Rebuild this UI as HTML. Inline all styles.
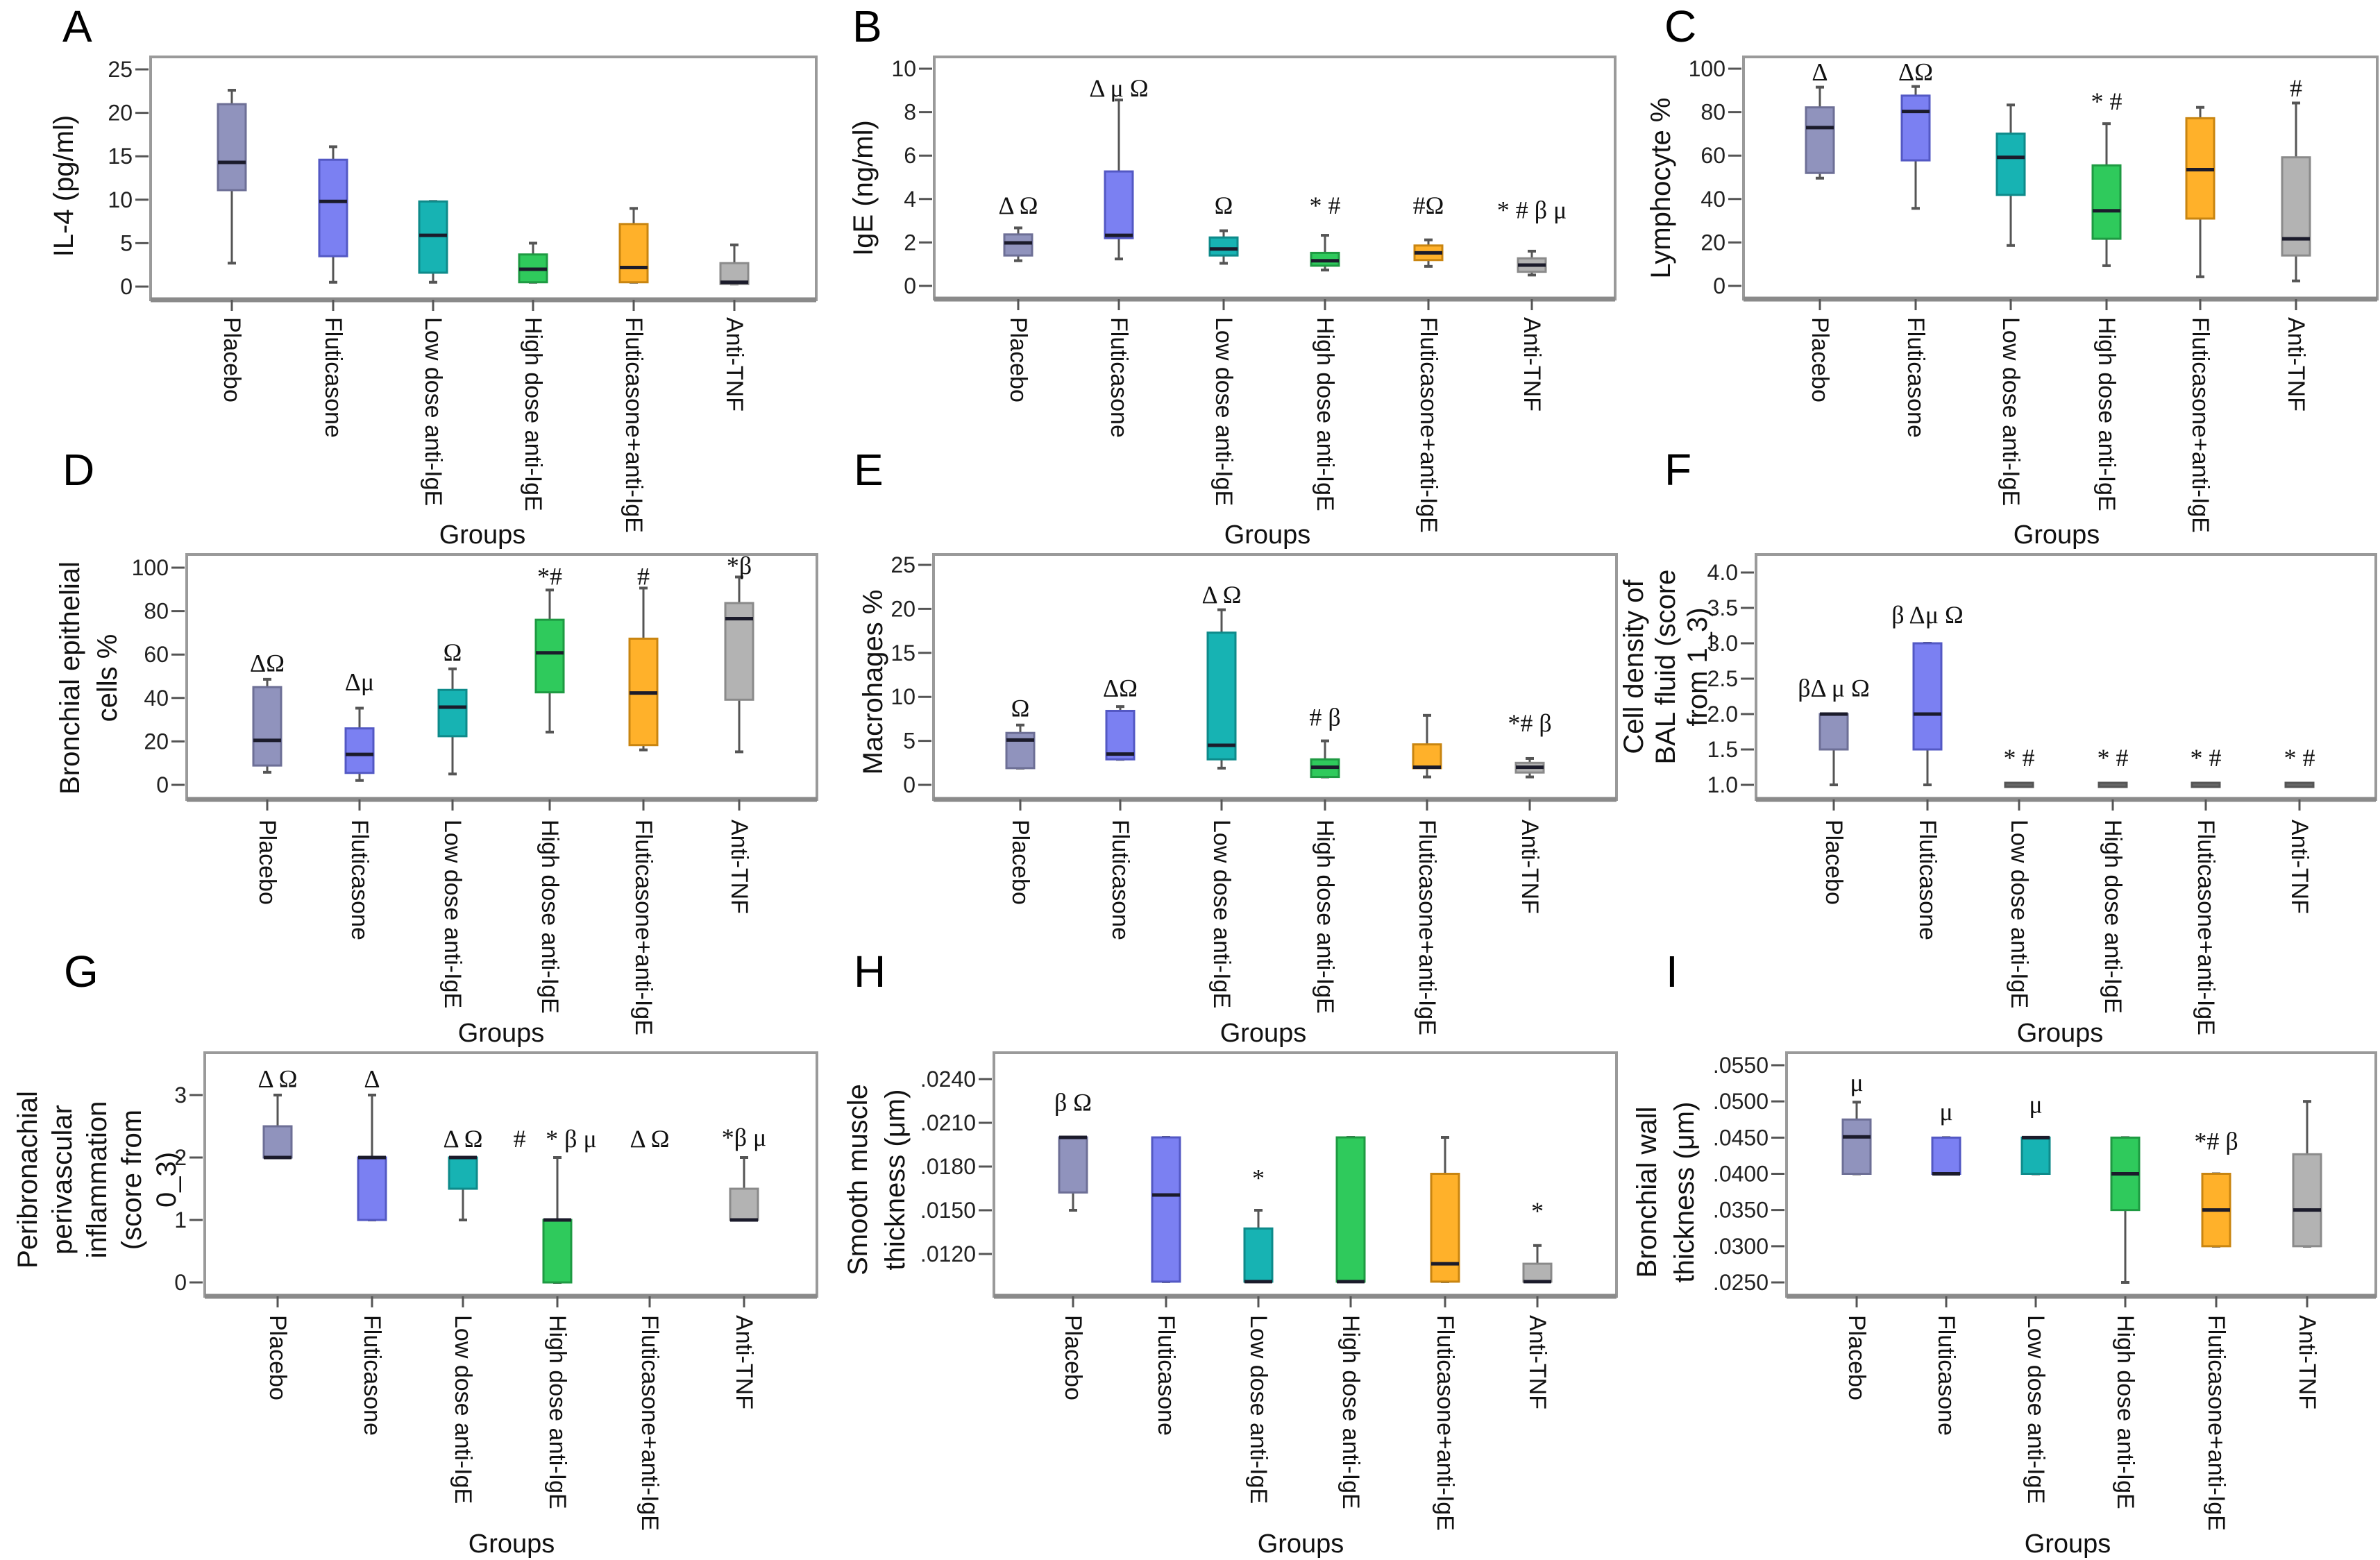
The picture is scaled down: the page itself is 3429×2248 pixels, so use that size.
<!DOCTYPE html>
<html><head><meta charset="utf-8">
<style>
html,body{margin:0;padding:0;background:#fff;}
svg{display:block;}
text{font-family:"Liberation Sans",sans-serif;}
.ann{font-family:"Liberation Serif",serif;}
</style></head>
<body>
<svg id="fig" width="3429" height="2248" viewBox="0 0 3429 2248" xmlns="http://www.w3.org/2000/svg">
<rect x="0" y="0" width="3429" height="2248" fill="#fff"/>
</svg>
<script>
// ---------- shared data ----------
const categories = ["Placebo","Fluticasone","Low dose anti-IgE","High dose anti-IgE","Fluticasone+anti-IgE","Anti-TNF"];
const colors = ["#9093bd","#7b80f2","#17b3b3","#2fca5c","#ffb12a","#b3b3b3"];
const strokes = ["#6d6f96","#5358c4","#0e8a8a","#1e9a42","#c98510","#8a8a8a"];

// ---------- panel A: IL-4 ----------
const a_max=[22.6,16.1,9.8,5.0,9.0,4.8];
const a_q3=[21.0,14.6,9.8,3.7,7.2,2.7];
const a_med=[14.3,9.8,5.9,2.0,2.2,0.5];
const a_q1=[11.1,3.5,1.6,0.5,0.5,0.3];
const a_min=[2.7,0.5,0.5,0.5,0.5,0.3];
const a_ticks=[0,5,10,15,20,25];
const a_tickLabels=["0","5","10","15","20","25"];
const a_annText=[];
const a_annCat=[];
const a_annVal=[];

// ---------- panel B: IgE ----------
const b_max=[2.67,8.56,2.54,2.33,2.12,1.6];
const b_q3=[2.37,5.27,2.23,1.52,1.86,1.27];
const b_med=[1.98,2.33,1.7,1.16,1.52,0.96];
const b_q1=[1.4,2.2,1.4,0.93,1.19,0.65];
const b_min=[1.16,1.24,1.04,0.73,0.9,0.5];
const b_ticks=[0,2,4,6,8,10];
const b_tickLabels=["0","2","4","6","8","10"];
const b_annText=["Δ Ω","Δ μ Ω","Ω","* #","#Ω","* # β μ"];
const b_annCat=[0,1,2,3,4,5];
const b_annVal=[3.7,9.1,3.7,3.7,3.7,3.5];

// ---------- panel C: Lymphocyte ----------
const c_max=[91.5,91.8,83.3,74.7,82.2,84.2];
const c_q3=[82.2,87.6,70.1,55.5,77.2,59.2];
const c_med=[72.9,80.3,59.2,34.6,53.5,21.7];
const c_q1=[52,57.8,41.9,21.7,31,14];
const c_min=[49.6,35.7,18.6,9.3,4.2,2.3];
const c_ticks=[0,20,40,60,80,100];
const c_tickLabels=["0","20","40","60","80","100"];
const c_annText=["Δ","ΔΩ","* #","#"];
const c_annCat=[0,1,3,5];
const c_annVal=[98.5,98.5,85,91];

// ---------- panel D: Bronchial epithelial ----------
const d_max=[48.6,35.3,53.4,89.7,90.6,95.7];
const d_q3=[45,26,43.7,76,67.3,83.7];
const d_med=[20.5,14,35.8,60.8,42.3,76.5];
const d_q1=[8.9,5.5,22.4,42.6,18.3,39.2];
const d_min=[5.8,2,5,24.3,16.1,15.2];
const d_ticks=[0,20,40,60,80,100];
const d_tickLabels=["0","20","40","60","80","100"];
const d_annText=["ΔΩ","Δμ","Ω","*#","#","*β"];
const d_annCat=[0,1,2,3,4,5];
const d_annVal=[56,47.4,61,96,96,101];

// ---------- panel E: Macrophages ----------
const e_max=[6.8,8.9,19.9,5.0,7.9,3.0];
const e_q3=[5.9,8.4,17.3,2.9,4.6,2.5];
const e_med=[5.1,3.5,4.5,2.0,2.0,2.0];
const e_q1=[1.9,2.9,2.9,0.9,1.9,1.4];
const e_min=[1.9,2.9,1.9,0.9,0.9,0.9];
const e_ticks=[0,5,10,15,20,25];
const e_tickLabels=["0","5","10","15","20","25"];
const e_annText=["Ω","ΔΩ","Δ Ω","# β","*# β"];
const e_annCat=[0,1,2,3,5];
const e_annVal=[8.7,11,21.6,7.7,7];

// ---------- panel F: Cell density ----------
const f_max=[2.0,3.0,1.0,1.0,1.0,1.0];
const f_q3=[2.0,3.0,1.0,1.0,1.0,1.0];
const f_med=[2.0,2.0,1.0,1.0,1.0,1.0];
const f_q1=[1.5,1.5,1.0,1.0,1.0,1.0];
const f_min=[1.0,1.0,1.0,1.0,1.0,1.0];
const f_ticks=[1.0,1.5,2.0,2.5,3.0,3.5,4.0];
const f_tickLabels=["1.0","1.5","2.0","2.5","3.0","3.5","4.0"];
const f_annText=["βΔ μ Ω","β Δμ Ω","* #","* #","* #","* #"];
const f_annCat=[0,1,2,3,4,5];
const f_annVal=[2.37,3.4,1.38,1.38,1.38,1.38];

// ---------- panel G: Peribronchial ----------
const g_max=[3.0,3.0,2.0,2.0,null,2.0];
const g_q3=[2.5,2.0,2.0,1.0,null,1.5];
const g_med=[2.0,2.0,2.0,1.0,null,1.0];
const g_q1=[2.0,1.0,1.5,0,null,1.0];
const g_min=[2.0,1.0,1.0,0,null,1.0];
const g_ticks=[0,1,2,3];
const g_tickLabels=["0","1","2","3"];
const g_annText=["Δ Ω","Δ","Δ Ω","#","* β μ","Δ Ω","*β μ"];
const g_annCat=[0,1,2,2.6,3.15,4,5];
const g_annVal=[3.26,3.26,2.3,2.3,2.3,2.3,2.32];

// ---------- panel H: Smooth muscle ----------
const h_max=[0.0200,0.0200,0.0150,0.0200,0.0200,0.01258];
const h_q3=[0.0200,0.0200,0.01375,0.0200,0.0175,0.01133];
const h_med=[0.0200,0.01605,0.0101,0.0101,0.01133,0.0101];
const h_q1=[0.01622,0.0101,0.0101,0.0101,0.0101,0.0101];
const h_min=[0.0150,0.0101,0.0101,0.0101,0.0101,0.0101];
const h_ticks=[0.012,0.015,0.018,0.021,0.024];
const h_tickLabels=[".0120",".0150",".0180",".0210",".0240"];
const h_annText=["β Ω","*","*"];
const h_annCat=[0,2,5];
const h_annVal=[0.0224,0.01722,0.01496];

// ---------- panel I: Bronchial wall ----------
const i_max=[0.0499,0.0450,0.0450,0.0450,0.0400,0.0500];
const i_q3=[0.0475,0.0450,0.0450,0.0450,0.0400,0.0427];
const i_med=[0.0451,0.0400,0.0450,0.0400,0.0350,0.0350];
const i_q1=[0.0400,0.0400,0.0400,0.0350,0.0300,0.0300];
const i_min=[0.0400,0.0400,0.0400,0.0250,0.0300,0.0300];
const i_ticks=[0.025,0.030,0.035,0.040,0.045,0.050,0.055];
const i_tickLabels=[".0250",".0300",".0350",".0400",".0450",".0500",".0550"];
const i_annText=["μ","μ","μ","*# β"];
const i_annCat=[0,1,2,4];
const i_annVal=[0.0526,0.0486,0.0496,0.0445];

const NS="http://www.w3.org/2000/svg";
const svg=document.getElementById('fig');
function mk(tag,attrs,parent){const e=document.createElementNS(NS,tag);for(const k in attrs)e.setAttribute(k,attrs[k]);(parent||svg).appendChild(e);return e;}

function drawPanel(p){
  const g=mk('g',{});
  
  
  const [L,T,R,B]=p.box;
  const y=v=>p.y0px+(v-p.y0)*(p.y1px-p.y0px)/(p.y1-p.y0);
  const frame=mk('rect',{x:L,y:T,width:R-L,height:B-T,fill:'none',stroke:'#9a9a9a','stroke-width':4},g);
  
  
  const bl=mk('line',{x1:L,y1:B,x2:R,y2:B,stroke:'#8a8a8a','stroke-width':7},g);
  
  
  const lt=mk('text',{x:p.letterX,y:p.letterY,'font-size':64},g);
  lt.textContent=p.id;
  
  
  p.ticks.forEach((t,k)=>{
    const ty=y(t);
    const tl=mk('line',{x1:L-22,y1:ty,x2:L-3,y2:ty,stroke:'#555','stroke-width':3},g);
    
    
    const tx=mk('text',{x:L-26,y:ty,'font-size':32,'text-anchor':'end','dominant-baseline':'central',fill:'#222'},g);
    tx.textContent=p.tickLabels[k];
    
    
  });
  const n=p.title.length, gap=p.titleGap||52;
  p.title.forEach((line,k)=>{
    const x=p.titleX+(k-(n-1)/2)*gap;
    const tt=mk('text',{x:x,y:p.titleY,'font-size':40,'text-anchor':'middle','dominant-baseline':'central',transform:`rotate(-90 ${x} ${p.titleY})`,fill:'#111'},g);
    tt.textContent=line;
    
    
  });
  categories.forEach((c,k)=>{
    const cx=p.cats[k];
    const ct=mk('line',{x1:cx,y1:B,x2:cx,y2:B+16,stroke:'#555','stroke-width':3},g);
    
    
    const lty=p.labelTop+8;
    const cl=mk('text',{x:cx,y:lty,'font-size':34,'dominant-baseline':'central',transform:`rotate(90 ${cx} ${lty})`,fill:'#111'},g);
    cl.textContent=c;
    
    
    if(p.max[k]===null) return;
    const w=40;
    const ymax=y(p.max[k]),yq3=y(p.q3[k]),ymed=y(p.med[k]),yq1=y(p.q1[k]),ymin=y(p.min[k]);
    const wg=mk('g',{},g);
    
    
    mk('line',{x1:cx,y1:ymax,x2:cx,y2:yq3,stroke:'#555','stroke-width':3},wg);
    mk('line',{x1:cx,y1:yq1,x2:cx,y2:ymin,stroke:'#555','stroke-width':3},wg);
    mk('line',{x1:cx-6,y1:ymax,x2:cx+6,y2:ymax,stroke:'#555','stroke-width':4},wg);
    mk('line',{x1:cx-6,y1:ymin,x2:cx+6,y2:ymin,stroke:'#555','stroke-width':4},wg);
    let top=yq3,h=yq1-yq3;
    if(h<6){top=(yq3+yq1)/2-3;h=6;}
    const flat=(yq1-yq3)<6;
    mk('rect',{x:cx-w/2,y:top,width:w,height:h,fill:flat?'#666':colors[k],stroke:flat?'#555':strokes[k],'stroke-width':3},wg);
    if(!flat) mk('line',{x1:cx-w/2,y1:ymed,x2:cx+w/2,y2:ymed,stroke:'#1b1b2b','stroke-width':5},wg);
  });
  p.annText.forEach((s,k)=>{
    const ci=p.annCat[k];
    const fl=Math.floor(ci), fr=ci-fl;
    const ax=fr===0?p.cats[fl]:p.cats[fl]+fr*(p.cats[fl+1]-p.cats[fl]);
    const at=mk('text',{x:ax,y:y(p.annVal[k]),'font-size':36,'text-anchor':'middle','dominant-baseline':'central',class:'ann',fill:'#111'},g);
    at.textContent=s;
    
    
  });
}

const panels=[
 {id:'A',box:[217,82,1176,432],y0:0,y0px:413,y1:25,y1px:100,ticks:a_ticks,tickLabels:a_tickLabels,cats:[334,480,624,768,913,1058],
  title:['IL-4  (pg/ml)'],titleX:92,titleY:268,letterX:90,letterY:60,labelTop:449,
  max:a_max,q3:a_q3,med:a_med,q1:a_q1,min:a_min,annText:a_annText,annCat:a_annCat,annVal:a_annVal},
 {id:'B',box:[1346,82,2327,431],y0:0,y0px:412,y1:10,y1px:99,ticks:b_ticks,tickLabels:b_tickLabels,cats:[1467,1612,1763,1909,2058,2207],
  title:['IgE  (ng/ml)'],titleX:1244,titleY:271,letterX:1228,letterY:60,labelTop:449,
  max:b_max,q3:b_q3,med:b_med,q1:b_q1,min:b_min,annText:b_annText,annCat:b_annCat,annVal:b_annVal},
 {id:'C',box:[2512,82,3425,431],y0:0,y0px:412,y1:100,y1px:99,ticks:c_ticks,tickLabels:c_tickLabels,cats:[2622,2760,2897,3035,3170,3308],
  title:['Lymphocyte %'],titleX:2393,titleY:271,letterX:2398,letterY:60,labelTop:449,
  max:c_max,q3:c_q3,med:c_med,q1:c_q1,min:c_min,annText:c_annText,annCat:c_annCat,annVal:c_annVal},
 {id:'D',box:[269,799,1177,1152],y0:0,y0px:1131,y1:100,y1px:818,ticks:d_ticks,tickLabels:d_tickLabels,cats:[385,518,652,792,927,1065],
  title:['Bronchial epithelial','cells %'],titleGap:54,titleX:128,titleY:977,letterX:90,letterY:699,labelTop:1173,
  max:d_max,q3:d_q3,med:d_med,q1:d_q1,min:d_min,annText:d_annText,annCat:d_annCat,annVal:d_annVal},
 {id:'E',box:[1345,799,2329,1152],y0:0,y0px:1131,y1:25,y1px:814,ticks:e_ticks,tickLabels:e_tickLabels,cats:[1470,1614,1760,1909,2056,2204],
  title:['Macrohages %'],titleX:1258,titleY:983,letterX:1230,letterY:699,labelTop:1173,
  max:e_max,q3:e_q3,med:e_med,q1:e_q1,min:e_min,annText:e_annText,annCat:e_annCat,annVal:e_annVal},
 {id:'F',box:[2530,799,3423,1152],y0:1,y0px:1131,y1:4,y1px:825,ticks:f_ticks,tickLabels:f_tickLabels,cats:[2642,2777,2909,3044,3178,3313],
  title:['Cell density of','BAL fluid (score','from 1_3)'],titleGap:46,titleX:2400,titleY:961,letterX:2398,letterY:699,labelTop:1173,
  max:f_max,q3:f_q3,med:f_med,q1:f_q1,min:f_min,annText:f_annText,annCat:f_annCat,annVal:f_annVal},
 {id:'G',box:[295,1517,1177,1868],y0:0,y0px:1848,y1:3,y1px:1578,ticks:g_ticks,tickLabels:g_tickLabels,cats:[400,536,667,803,936,1072],
  title:['Peribronachial','perivascular','inflammation','(score from','0_3)'],titleGap:50,titleX:140,titleY:1700,letterX:92,letterY:1422,labelTop:1887,
  max:g_max,q3:g_q3,med:g_med,q1:g_q1,min:g_min,annText:g_annText,annCat:g_annCat,annVal:g_annVal},
 {id:'H',box:[1432,1517,2329,1868],y0:0.012,y0px:1807,y1:0.024,y1px:1555,ticks:h_ticks,tickLabels:h_tickLabels,cats:[1546,1680,1813,1946,2082,2215],
  title:['Smooth muscle','thickness (μm)'],titleGap:54,titleX:1263,titleY:1700,letterX:1230,letterY:1422,labelTop:1887,
  max:h_max,q3:h_q3,med:h_med,q1:h_q1,min:h_min,annText:h_annText,annCat:h_annCat,annVal:h_annVal},
 {id:'I',box:[2574,1517,3423,1868],y0:0.025,y0px:1848,y1:0.055,y1px:1535,ticks:i_ticks,tickLabels:i_tickLabels,cats:[2675,2804,2933,3062,3193,3324],
  title:['Bronchial wall','thickness (μm)'],titleGap:54,titleX:2400,titleY:1718,letterX:2400,letterY:1422,labelTop:1887,
  max:i_max,q3:i_q3,med:i_med,q1:i_q1,min:i_min,annText:i_annText,annCat:i_annCat,annVal:i_annVal}
];
panels.forEach(drawPanel);

const groupsX=[[695,1826,2963],[722,1820,2968],[737,1874,2979]];
const groupsY=[771,1489,2225];
groupsX.forEach((row,r)=>row.forEach(x=>{
  const t=mk('text',{x:x,y:groupsY[r],'font-size':38,'text-anchor':'middle','dominant-baseline':'central',fill:'#111'});
  t.textContent='Groups';
  
  
}));
</script>
</body></html>
